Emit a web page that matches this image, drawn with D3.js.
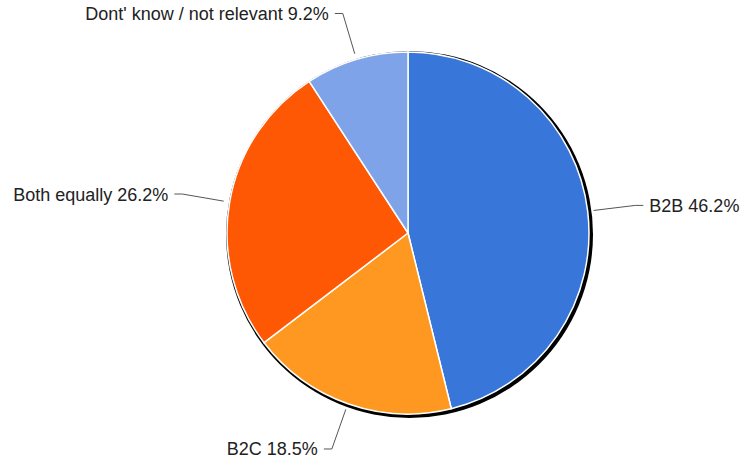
<!DOCTYPE html>
<html>
<head>
<meta charset="utf-8">
<script src="https://cdn.jsdelivr.net/npm/d3@7"></script>
<style>
  html, body { margin: 0; padding: 0; background: #fff; }
  svg { display: block; }
</style>
</head>
<body>
<svg id="chart" width="742" height="461"></svg>
<script>
// Share of respondents by business focus
const categories = ["B2B", "B2C", "Both equally", "Dont' know / not relevant"];
const values = [46.2, 18.5, 26.2, 9.2];
const valueLabels = ["46.2%", "18.5%", "26.2%", "9.2%"];
const colors = ["#3876d9", "#fe9820", "#fe5805", "#7ea3e8"];

const width = 742, height = 461;
const cx = 408, cy = 233, radius = 181;

const svg = d3.select("#chart");

const data = categories.map((c, i) => ({ name: c, value: values[i], label: valueLabels[i], color: colors[i] }));

const pie = d3.pie().value(d => d.value).sort(null);
const arcs = pie(data);
const arc = d3.arc().innerRadius(0).outerRadius(radius);

const g = svg.append("g").attr("transform", `translate(${cx},${cy})`);

// dark rim offset toward lower right
g.append("circle")
  .attr("cx", 1.5).attr("cy", 1.5)
  .attr("r", radius + 2.5)
  .attr("fill", "#000");

g.selectAll("path.slice")
  .data(arcs)
  .join("path")
  .attr("class", "slice")
  .attr("d", arc)
  .attr("fill", d => d.data.color)
  .attr("stroke", "#fff")
  .attr("stroke-width", 1.5)
  .attr("stroke-linejoin", "round");

// leader lines and labels
const startR = radius + 6, elbowR = 229, tail = 8, gap = 6;
arcs.forEach(a => {
  const mid = (a.startAngle + a.endAngle) / 2;
  const sx = Math.sin(mid) * startR, sy = -Math.cos(mid) * startR;
  const ex = Math.sin(mid) * elbowR, ey = -Math.cos(mid) * elbowR;
  const side = Math.sin(mid) >= 0 ? 1 : -1;
  const tx = ex + side * tail;
  g.append("polyline")
    .attr("points", `${sx},${sy} ${ex},${ey} ${tx},${ey}`)
    .attr("fill", "none")
    .attr("stroke", "#555")
    .attr("stroke-width", 1);
  g.append("text")
    .attr("x", tx + side * gap)
    .attr("y", ey)
    .attr("dy", "0.36em")
    .attr("text-anchor", side > 0 ? "start" : "end")
    .attr("font-family", "'Liberation Sans', Arial, sans-serif")
    .attr("font-size", 18)
    .attr("fill", "#222")
    .text(`${a.data.name} ${a.data.label}`);
});
</script>
</body>
</html>
